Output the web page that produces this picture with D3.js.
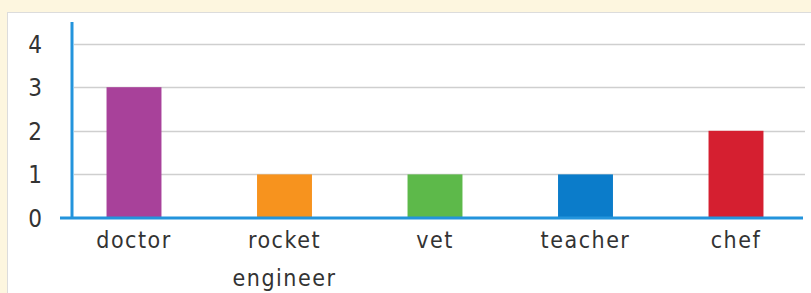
<!DOCTYPE html>
<html>
<head>
<meta charset="utf-8">
<script src="https://cdn.jsdelivr.net/npm/d3@7"></script>
<style>
  html, body { margin: 0; padding: 0; background: #fdf6df; }
  svg { display: block; }
</style>
</head>
<body>
<svg id="chart" width="811" height="293"></svg>
<script>
const categories = ["doctor", "rocket engineer", "vet", "teacher", "chef"];
const categoryLines = [["doctor"], ["rocket", "engineer"], ["vet"], ["teacher"], ["chef"]];
const values = [3, 1, 1, 1, 2];
const colors = ["#a8419a", "#f7931e", "#5db94a", "#0b7cca", "#d51f30"];
const yTicks = [0, 1, 2, 3, 4];

const svg = d3.select("#chart");
const W = 811, H = 293;

// background
svg.append("rect").attr("x", 0).attr("y", 0).attr("width", W).attr("height", H).attr("fill", "#fdf6df");
svg.append("rect").attr("x", 7.5).attr("y", 12.5).attr("width", W).attr("height", H)
  .attr("fill", "#ffffff").attr("stroke", "#dcdcdc").attr("stroke-width", 1);

const x = d3.scaleBand().domain(categories).range([58.75, 811.25])
  .paddingInner(0.635).paddingOuter(0.3175);
const y = d3.scaleLinear().domain([0, 4]).range([218, 43.6]);

const fontFam = "'DejaVu Sans Condensed', 'DejaVu Sans', sans-serif";

// gridlines
svg.append("g").selectAll("line").data(yTicks.filter(d => d > 0)).join("line")
  .attr("x1", 74).attr("x2", 805)
  .attr("y1", d => Math.round(y(d)) + 0.5).attr("y2", d => Math.round(y(d)) + 0.5)
  .attr("stroke", "#cfcfcf").attr("stroke-width", 1.5);

// bars
svg.append("g").selectAll("rect").data(categories).join("rect")
  .attr("x", d => x(d)).attr("width", x.bandwidth())
  .attr("y", (d, i) => y(values[i])).attr("height", (d, i) => y(0) - y(values[i]))
  .attr("fill", (d, i) => colors[i]);

// y axis line
svg.append("line").attr("x1", 72).attr("x2", 72).attr("y1", 22).attr("y2", 219)
  .attr("stroke", "#2394dc").attr("stroke-width", 3);
// x axis line
svg.append("line").attr("x1", 60).attr("x2", 803).attr("y1", 218).attr("y2", 218)
  .attr("stroke", "#2394dc").attr("stroke-width", 3);

// y tick labels
svg.append("g").selectAll("text").data(yTicks).join("text")
  .attr("x", 35).attr("y", d => y(d) + 9)
  .attr("text-anchor", "middle")
  .attr("font-family", fontFam).attr("font-size", 24).attr("fill", "#333333")
  .text(d => d);

// x labels
const xl = svg.append("g").selectAll("text").data(categories).join("text")
  .attr("x", d => x(d) + x.bandwidth() / 2)
  .attr("y", 248)
  .attr("text-anchor", "middle")
  .attr("font-family", fontFam).attr("font-size", 23).attr("letter-spacing", 1.5)
  .attr("fill", "#333333");
xl.each(function(d, i) {
  const t = d3.select(this);
  categoryLines[i].forEach((line, j) => {
    t.append("tspan").attr("x", x(d) + x.bandwidth() / 2).attr("dy", j === 0 ? 0 : 38).text(line);
  });
});
</script>
</body>
</html>
